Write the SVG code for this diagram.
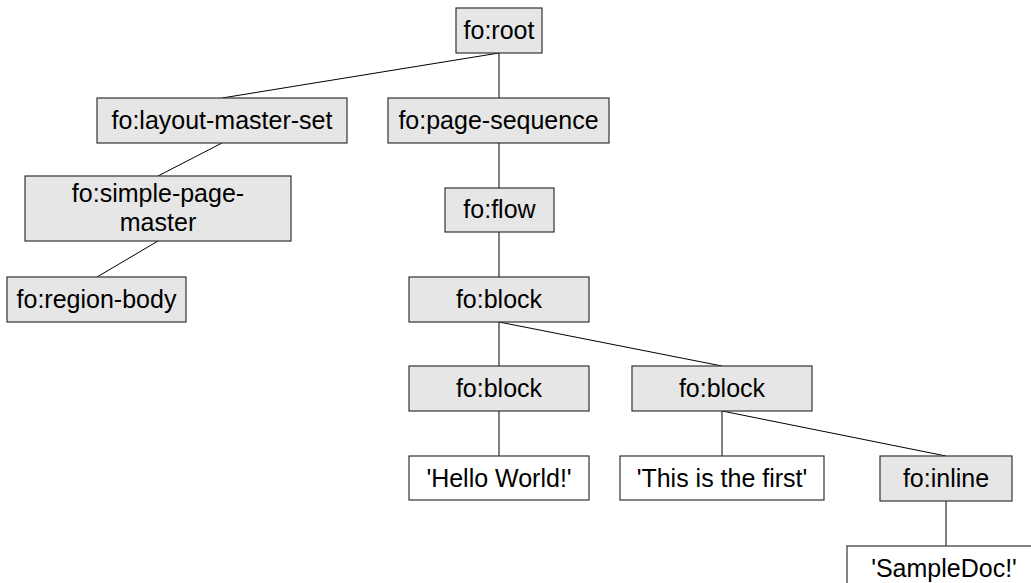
<svg xmlns="http://www.w3.org/2000/svg" width="1031" height="583" viewBox="0 0 1031 583">
<style>
rect{stroke:#333;stroke-width:1.2}
.el{fill:#e6e6e6}
.tx{fill:#fff}
text{font-family:"Liberation Sans",Arial,sans-serif;font-size:25px;fill:#000;text-anchor:middle}
#edges line{stroke:#000;stroke-width:1}
</style>
<rect width="1031" height="583" fill="#fff" style="stroke:none"/>
<g id="edges">
<line x1="499" y1="53" x2="222" y2="98"/>
<line x1="499" y1="53" x2="499" y2="98"/>
<line x1="222" y1="143" x2="158" y2="176"/>
<line x1="158" y1="241" x2="97" y2="277"/>
<line x1="499" y1="143" x2="499" y2="188"/>
<line x1="499" y1="232" x2="499" y2="277"/>
<line x1="499" y1="322" x2="499" y2="366"/>
<line x1="499" y1="322" x2="722" y2="366"/>
<line x1="499" y1="411" x2="499" y2="456"/>
<line x1="722" y1="411" x2="722" y2="456"/>
<line x1="722" y1="411" x2="946" y2="456"/>
<line x1="946" y1="501" x2="946" y2="546"/>
</g>
<g id="root"><rect class="el" x="456" y="8" width="86" height="45"/><text x="499" y="39">fo:root</text></g>
<g id="layout-master-set"><rect class="el" x="97" y="98" width="250" height="45"/><text x="222" y="129">fo:layout-master-set</text></g>
<g id="page-sequence"><rect class="el" x="388" y="98" width="221" height="45"/><text x="498.5" y="129">fo:page-sequence</text></g>
<g id="simple-page-master"><rect class="el" x="25" y="176" width="266" height="65"/><text x="158" y="202">fo:simple-page-</text><text x="158" y="231">master</text></g>
<g id="flow"><rect class="el" x="445" y="188" width="109" height="44"/><text x="499.5" y="218">fo:flow</text></g>
<g id="region-body"><rect class="el" x="7" y="277" width="179" height="45"/><text x="96.5" y="308">fo:region-body</text></g>
<g id="block-main"><rect class="el" x="409" y="277" width="180" height="45"/><text x="499" y="308">fo:block</text></g>
<g id="block-left"><rect class="el" x="409" y="366" width="180" height="45"/><text x="499" y="397">fo:block</text></g>
<g id="block-right"><rect class="el" x="632" y="366" width="180" height="45"/><text x="722" y="397">fo:block</text></g>
<g id="hello"><rect class="tx" x="409" y="456" width="180" height="44"/><text x="499" y="487">'Hello World!'</text></g>
<g id="first"><rect class="tx" x="620" y="456" width="204" height="44"/><text x="722" y="487">'This is the first'</text></g>
<g id="inline"><rect class="el" x="880" y="456" width="132" height="45"/><text x="946" y="487">fo:inline</text></g>
<g id="sampledoc"><rect class="tx" x="847" y="546" width="198" height="45"/><text x="944" y="577">'SampleDoc!'</text></g>
</svg>
